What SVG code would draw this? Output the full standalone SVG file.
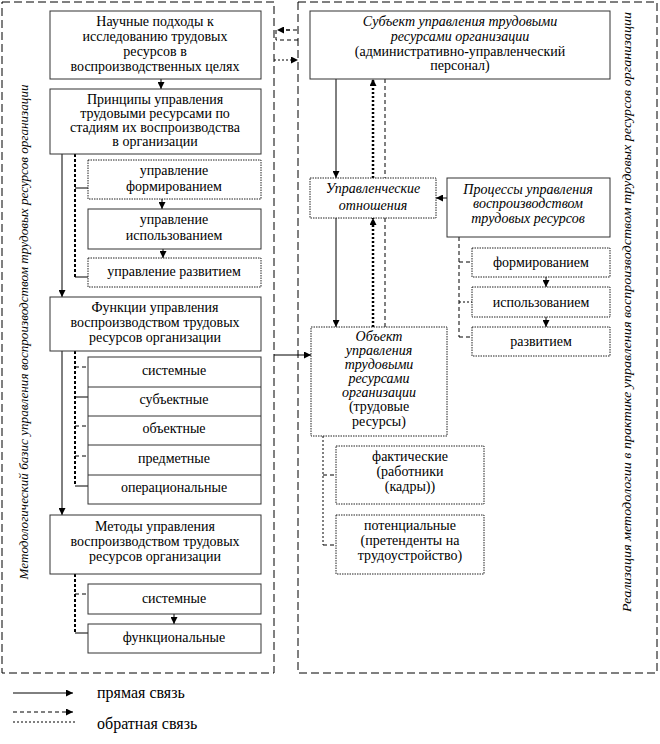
<svg xmlns="http://www.w3.org/2000/svg" width="660" height="744" viewBox="0 0 660 744" font-family="'Liberation Serif', 'Times New Roman', Times, serif">
<style>
text{font-size:14px;fill:#000;text-anchor:middle}
.it{font-style:italic;font-size:14px}
.side{font-style:italic;font-size:13px}
.leg{text-anchor:start;font-size:16px}
.box{fill:#fff;stroke:#333;stroke-width:1}
.dbox{fill:#fff;stroke:#222;stroke-width:1;stroke-dasharray:1.5 1}
.outer{fill:none;stroke:#000;stroke-width:1;stroke-dasharray:8 4}
.sol{fill:none;stroke:#000;stroke-width:1}
.dsh{fill:none;stroke:#000;stroke-width:1;stroke-dasharray:4 3}
.tdsh{fill:none;stroke:#000;stroke-width:2;stroke-dasharray:3 2}
.dot{fill:none;stroke:#000;stroke-width:1;stroke-dasharray:2 2}
.tdot{fill:none;stroke:#000;stroke-width:2.5;stroke-dasharray:2 2}
.div{stroke:#333;stroke-width:1}
</style>
<defs>
<marker id="ah" viewBox="0 0 8 8" refX="8" refY="4" markerWidth="7" markerHeight="7" orient="auto" markerUnits="userSpaceOnUse"><path d="M0,0 L8,4 L0,8 z" fill="#000"/></marker>
</defs>
<rect width="660" height="744" fill="#fff"/>

<g id="outer-left">
<rect class="outer" x="2" y="2" width="272" height="671"/>
<text class="side" transform="translate(28,332) rotate(-90)" textLength="495" lengthAdjust="spacingAndGlyphs">Методологический базис управления воспроизводством трудовых ресурсов организации</text>
</g>
<g id="outer-right">
<rect class="outer" x="298" y="2" width="359" height="671"/>
<text class="side" transform="translate(631,312) rotate(-90)" textLength="600" lengthAdjust="spacingAndGlyphs">Реализация методологии в практике  управления воспроизводством трудовых ресурсов организации</text>
</g>

<g id="connectors">
<line class="sol" x1="161" y1="79" x2="161" y2="89" marker-end="url(#ah)"/>
<line class="sol" x1="62" y1="154" x2="62" y2="297" marker-end="url(#ah)"/>
<line class="tdsh" x1="75" y1="154" x2="75" y2="277"/>
<line class="sol" x1="75" y1="188" x2="88" y2="188"/>
<line class="sol" x1="75" y1="277" x2="88" y2="277"/>
<line class="sol" x1="162" y1="199" x2="162" y2="209" marker-end="url(#ah)"/>
<line class="sol" x1="163" y1="249" x2="163" y2="258" marker-end="url(#ah)"/>
<line class="sol" x1="62" y1="351" x2="62" y2="515" marker-end="url(#ah)"/>
<line class="tdsh" x1="75" y1="351" x2="75" y2="486"/>
<line class="dsh" x1="75" y1="367" x2="88" y2="367"/>
<line class="sol" x1="75" y1="397" x2="88" y2="397"/>
<line class="dsh" x1="75" y1="426" x2="88" y2="426"/>
<line class="dsh" x1="75" y1="456" x2="88" y2="456"/>
<line class="sol" x1="75" y1="486" x2="88" y2="486"/>
<line class="tdsh" x1="75" y1="574" x2="75" y2="633"/>
<line class="dsh" x1="75" y1="594" x2="88" y2="594"/>
<line class="sol" x1="75" y1="633" x2="88" y2="633"/>
<line class="sol" x1="174" y1="614" x2="174" y2="624" marker-end="url(#ah)"/>
<path class="dsh" d="M298,40 H276 V30 H298"/>
<line class="dsh" x1="290" y1="30" x2="277" y2="30" marker-end="url(#ah)"/>
<line class="dot" x1="274" y1="60" x2="298" y2="60" marker-end="url(#ah)"/>
<line class="sol" x1="336" y1="79" x2="336" y2="178" marker-end="url(#ah)"/>
<line class="tdot" x1="373" y1="178" x2="373" y2="79" marker-end="url(#ah)"/>
<line class="dsh" x1="385" y1="79" x2="385" y2="178"/>
<line class="sol" x1="447" y1="198" x2="436" y2="198" marker-end="url(#ah)"/>
<line class="dsh" x1="459" y1="237" x2="459" y2="337"/>
<line class="dsh" x1="459" y1="262" x2="472" y2="262"/>
<line class="dot" x1="459" y1="302" x2="472" y2="302"/>
<line class="dsh" x1="459" y1="337" x2="472" y2="337"/>
<line class="sol" x1="546" y1="277" x2="546" y2="287" marker-end="url(#ah)"/>
<line class="sol" x1="546" y1="317" x2="546" y2="327" marker-end="url(#ah)"/>
<line class="sol" x1="336" y1="218" x2="336" y2="327" marker-end="url(#ah)"/>
<line class="tdot" x1="373" y1="327" x2="373" y2="218" marker-end="url(#ah)"/>
<line class="dsh" x1="385" y1="218" x2="385" y2="327"/>
<line class="sol" x1="274" y1="355" x2="311" y2="355" marker-end="url(#ah)"/>
<line class="dot" x1="323" y1="436" x2="323" y2="545"/>
<line class="dsh" x1="323" y1="475" x2="336" y2="475"/>
<line class="dsh" x1="323" y1="545" x2="336" y2="545"/>
</g>

<g id="n-nauch">
<rect class="box" x="50" y="11" width="211" height="68"/>
<text x="155" y="26">Научные подходы к</text>
<text x="155" y="41">исследованию трудовых</text>
<text x="155" y="56">ресурсов в</text>
<text x="155" y="71">воспроизводственных целях</text>
</g>
<g id="n-princ">
<rect class="box" x="50" y="89" width="211" height="65"/>
<text x="155" y="104">Принципы управления</text>
<text x="155" y="118">трудовыми ресурсами по</text>
<text x="155" y="132">стадиям их воспроизводства</text>
<text x="155" y="146">в организации</text>
</g>
<g id="n-uform">
<rect class="dbox" x="88" y="160" width="173" height="39"/>
<text x="174" y="175">управление</text>
<text x="174" y="191">формированием</text>
</g>
<g id="n-uisp">
<rect class="box" x="88" y="209" width="173" height="40"/>
<text x="174" y="224">управление</text>
<text x="174" y="240">использованием</text>
</g>
<g id="n-urazv">
<rect class="dbox" x="88" y="258" width="173" height="29"/>
<text x="174" y="276">управление развитием</text>
</g>
<g id="n-func">
<rect class="box" x="50" y="297" width="211" height="54"/>
<text x="155" y="312">Функции управления</text>
<text x="155" y="327">воспроизводством трудовых</text>
<text x="155" y="342">ресурсов организации</text>
</g>
<g id="n-funclist">
<rect class="box" x="88" y="357" width="173" height="147"/>
<line class="div" x1="88" y1="387" x2="261" y2="387"/>
<line class="div" x1="88" y1="416" x2="261" y2="416"/>
<line class="div" x1="88" y1="445" x2="261" y2="445"/>
<line class="div" x1="88" y1="475" x2="261" y2="475"/>
<text x="174" y="375">системные</text>
<text x="174" y="404">субъектные</text>
<text x="174" y="433">объектные</text>
<text x="174" y="463">предметные</text>
<text x="174" y="492">операциональные</text>
</g>
<g id="n-metod">
<rect class="box" x="50" y="515" width="211" height="59"/>
<text x="155" y="531">Методы управления</text>
<text x="155" y="546">воспроизводством трудовых</text>
<text x="155" y="561">ресурсов организации</text>
</g>
<g id="n-msist">
<rect class="box" x="88" y="584" width="173" height="30"/>
<text x="174" y="603">системные</text>
</g>
<g id="n-mfunc">
<rect class="box" x="88" y="624" width="173" height="29"/>
<text x="174" y="642">функциональные</text>
</g>

<g id="n-subj">
<rect class="box" x="310" y="11" width="300" height="68"/>
<text class="it" x="460" y="26">Субъект управления трудовыми</text>
<text class="it" x="460" y="41">ресурсами организации</text>
<text x="460" y="56">(административно-управленческий</text>
<text x="460" y="70">персонал)</text>
</g>
<g id="n-otn">
<rect class="dbox" x="310" y="178" width="126" height="40"/>
<text class="it" x="373" y="193">Управленческие</text>
<text class="it" x="373" y="210">отношения</text>
</g>
<g id="n-proc">
<rect class="box" x="447" y="178" width="163" height="59"/>
<text class="it" x="528" y="194">Процессы управления</text>
<text class="it" x="528" y="208">воспроизводством</text>
<text class="it" x="528" y="223">трудовых ресурсов</text>
</g>
<g id="n-pform">
<rect class="dbox" x="472" y="248" width="138" height="29"/>
<text x="541" y="267">формированием</text>
</g>
<g id="n-pisp">
<rect class="dbox" x="472" y="287" width="138" height="30"/>
<text x="541" y="307">использованием</text>
</g>
<g id="n-prazv">
<rect class="dbox" x="472" y="327" width="138" height="29"/>
<text x="541" y="346">развитием</text>
</g>
<g id="n-obj">
<rect class="dbox" x="311" y="327" width="136" height="109"/>
<text class="it" x="379" y="341">Объект</text>
<text class="it" x="379" y="355">управления</text>
<text class="it" x="379" y="369">трудовыми</text>
<text class="it" x="379" y="383">ресурсами</text>
<text class="it" x="379" y="397">организации</text>
<text x="379" y="411">(трудовые</text>
<text x="379" y="426">ресурсы)</text>
</g>
<g id="n-fakt">
<rect class="dbox" x="336" y="446" width="148" height="58"/>
<text x="410" y="461">фактические</text>
<text x="410" y="476">(работники</text>
<text x="410" y="491">(кадры))</text>
</g>
<g id="n-pot">
<rect class="dbox" x="336" y="515" width="148" height="59"/>
<text x="410" y="530">потенциальные</text>
<text x="410" y="545">(претенденты на</text>
<text x="410" y="560">трудоустройство)</text>
</g>

<g id="legend">
<line class="sol" x1="13" y1="693" x2="73" y2="693" marker-end="url(#ah)"/>
<line class="dsh" x1="13" y1="712" x2="73" y2="712" marker-end="url(#ah)"/>
<line class="dot" x1="13" y1="722" x2="75" y2="722"/>
<text class="leg" x="97" y="698">прямая связь</text>
<text class="leg" x="97" y="729">обратная связь</text>
</g>
</svg>
